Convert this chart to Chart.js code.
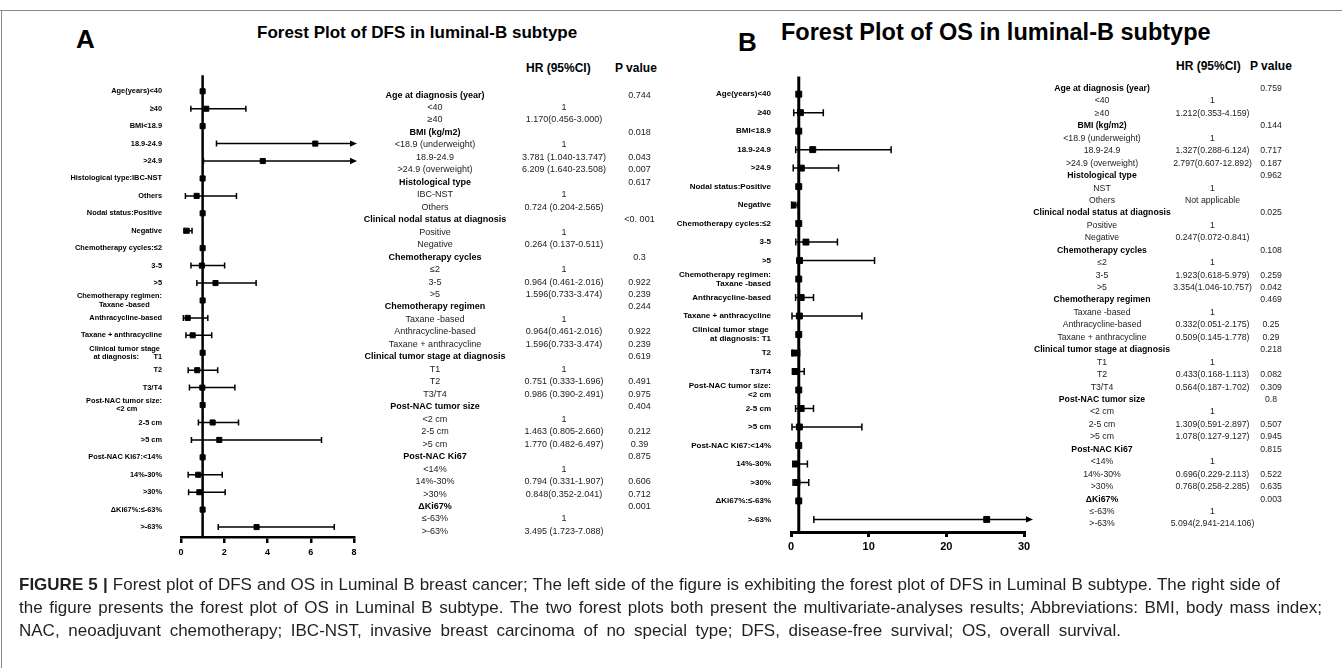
<!DOCTYPE html>
<html>
<head>
<meta charset="utf-8">
<script src="https://cdn.jsdelivr.net/npm/chart.js@4.4.1/dist/chart.umd.min.js"></script>
<style>
  body { margin: 0; background: #fff; font-family: 'Liberation Sans', Arial, sans-serif; }
  #fig { position: relative; width: 1342px; height: 668px; overflow: hidden; background: #fff; }
  .t { position: absolute; white-space: nowrap; color: #222; }
  .frameTop { position: absolute; left: 0; top: 10px; width: 1342px; height: 1px; background: #8a8a8a; }
  .frameLeft { position: absolute; left: 1px; top: 10px; width: 1px; height: 658px; background: #8a8a8a; }
  canvas { position: absolute; }
  .cap { position: absolute; left: 19px; font-size: 17px; line-height: 23px; color: #231f20; white-space: nowrap;
         text-align: justify; text-align-last: justify; }
</style>
</head>
<body>
<div id="fig">
  <div class="frameTop"></div>
  <div class="frameLeft"></div>

  <div class="t" style="left:76px;top:23px;font-size:26px;line-height:32px;font-weight:bold;color:#000">A</div>
  <div class="t" style="left:257px;top:23px;font-size:17px;line-height:20px;font-weight:bold;color:#000">Forest Plot of DFS in luminal-B subtype</div>
  <div class="t" style="left:526px;top:60px;font-size:12px;line-height:16px;font-weight:bold;color:#000">HR (95%CI)</div>
  <div class="t" style="left:615px;top:60px;font-size:12px;line-height:16px;font-weight:bold;color:#000">P value</div>

  <div class="t" style="left:738px;top:26px;font-size:26px;line-height:32px;font-weight:bold;color:#000">B</div>
  <div class="t" style="left:781px;top:19px;font-size:23.5px;line-height:26px;font-weight:bold;color:#000">Forest Plot of OS in luminal-B subtype</div>
  <div class="t" style="left:1176px;top:58px;font-size:12px;line-height:16px;font-weight:bold;color:#000">HR (95%CI)</div>
  <div class="t" style="left:1250px;top:58px;font-size:12px;line-height:16px;font-weight:bold;color:#000">P value</div>

  <canvas id="dfs" width="362" height="520" style="left:0;top:60px"></canvas>
  <canvas id="os" width="440" height="520" style="left:600px;top:60px"></canvas>

  <div class="cap" style="top:573px;width:1261px"><b>FIGURE 5 |</b> Forest plot of DFS and OS in Luminal B breast cancer; The left side of the figure is exhibiting the forest plot of DFS in Luminal B subtype. The right side of</div>
  <div class="cap" style="top:596px;width:1303px">the figure presents the forest plot of OS in Luminal B subtype. The two forest plots both present the multivariate-analyses results; Abbreviations: BMI, body mass index;</div>
  <div class="cap" style="top:619px;width:1102px">NAC, neoadjuvant chemotherapy; IBC-NST, invasive breast carcinoma of no special type; DFS, disease-free survival; OS, overall survival.</div>
</div>

<script>
// ---- DFS forest plot (A) ----
const rowsA = [
  'Age(years)<40', '≥40', 'BMI<18.9', '18.9-24.9', '>24.9',
  'Histological type:IBC-NST', 'Others', 'Nodal status:Positive', 'Negative',
  'Chemotherapy cycles:≤2', '3-5', '>5',
  ['Chemotherapy regimen:', 'Taxane -based      '], 'Anthracycline-based', 'Taxane + anthracycline',
  ['Clinical tumor stage ', 'at diagnosis:       T1'], 'T2', 'T3/T4',
  ['Post-NAC tumor size:', '<2 cm            '], '2-5 cm', '>5 cm',
  'Post-NAC Ki67:<14%', '14%-30%', '>30%', 'ΔKi67%:≤-63%', '>-63%'
];
const hrA = [1, 1.170, 1, 6.209, 3.781, 1, 0.724, 1, 0.264, 1, 0.964, 1.596, 1, 0.31, 0.54, 1, 0.751, 0.986, 1, 1.463, 1.770, 1, 0.794, 0.848, 1, 3.495];
const loA = [null, 0.456, null, 1.640, 1.040, null, 0.204, null, 0.137, null, 0.461, 0.733, null, 0.11, 0.23, null, 0.333, 0.390, null, 0.805, 0.482, null, 0.331, 0.352, null, 1.723];
const hiA = [null, 3.000, null, 23.508, 13.747, null, 2.565, null, 0.511, null, 2.016, 3.474, null, 1.24, 1.42, null, 1.696, 2.491, null, 2.660, 6.497, null, 1.907, 2.041, null, 7.088];

// ---- OS forest plot (B) ----
const rowsB = [
  'Age(years)<40', '≥40', 'BMI<18.9', '18.9-24.9', '>24.9',
  'Nodal status:Positive', 'Negative', 'Chemotherapy cycles:≤2', '3-5', '>5',
  ['Chemotherapy regimen:', 'Taxane -based'], 'Anthracycline-based', 'Taxane + anthracycline',
  ['Clinical tumor stage ', 'at diagnosis: T1'], 'T2', 'T3/T4',
  ['Post-NAC tumor size:', '<2 cm'], '2-5 cm', '>5 cm',
  'Post-NAC Ki67:<14%', '14%-30%', '>30%', 'ΔKi67%:≤-63%', '>-63%'
];
const hrB = [1, 1.212, 1, 2.797, 1.327, 1, 0.247, 1, 1.923, 1.1, 1, 1.309, 1.078, 1, 0.433, 0.564, 1, 1.309, 1.078, 1, 0.696, 0.768, 1, 25.2];
const loB = [null, 0.353, null, 0.607, 0.288, null, 0.072, null, 0.618, 1.046, null, 0.591, 0.127, null, 0.168, 0.187, null, 0.591, 0.127, null, 0.229, 0.258, null, 2.941];
const hiB = [null, 4.159, null, 12.892, 6.124, null, 0.841, null, 5.979, 10.757, null, 2.897, 9.127, null, 1.113, 1.702, null, 2.897, 9.127, null, 2.113, 2.285, null, 214.106];

// ---- tables next to each plot ('' in HR column = group heading) ----
const tabLabA = ['Age at diagnosis (year)', '<40', '≥40', 'BMI (kg/m2)', '<18.9 (underweight)', '18.9-24.9', '>24.9 (overweight)',
  'Histological type', 'IBC-NST', 'Others', 'Clinical nodal status at diagnosis', 'Positive', 'Negative',
  'Chemotherapy cycles', '≤2', '3-5', '>5', 'Chemotherapy regimen', 'Taxane -based', 'Anthracycline-based', 'Taxane + anthracycline',
  'Clinical tumor stage at diagnosis', 'T1', 'T2', 'T3/T4', 'Post-NAC tumor size', '<2 cm', '2-5 cm', '>5 cm',
  'Post-NAC Ki67', '<14%', '14%-30%', '>30%', 'ΔKi67%', '≤-63%', '>-63%'];
const tabHrA = ['', '1', '1.170(0.456-3.000)', '', '1', '3.781 (1.040-13.747)', '6.209 (1.640-23.508)',
  '', '1', '0.724 (0.204-2.565)', '', '1', '0.264 (0.137-0.511)',
  '', '1', '0.964 (0.461-2.016)', '1.596(0.733-3.474)', '', '1', '0.964(0.461-2.016)', '1.596(0.733-3.474)',
  '', '1', '0.751 (0.333-1.696)', '0.986 (0.390-2.491)', '', '1', '1.463 (0.805-2.660)', '1.770 (0.482-6.497)',
  '', '1', '0.794 (0.331-1.907)', '0.848(0.352-2.041)', '', '1', '3.495 (1.723-7.088)'];
const tabPA = ['0.744', '', '', '0.018', '', '0.043', '0.007',
  '0.617', '', '', '<0. 001', '', '',
  '0.3', '', '0.922', '0.239', '0.244', '', '0.922', '0.239',
  '0.619', '', '0.491', '0.975', '0.404', '', '0.212', '0.39',
  '0.875', '', '0.606', '0.712', '0.001', '', ''];

const tabLabB = ['Age at diagnosis (year)', '<40', '≥40', 'BMI (kg/m2)', '<18.9 (underweight)', '18.9-24.9', '>24.9 (overweight)',
  'Histological type', 'NST', 'Others', 'Clinical nodal status at diagnosis', 'Positive', 'Negative',
  'Chemotherapy cycles', '≤2', '3-5', '>5', 'Chemotherapy regimen', 'Taxane -based', 'Anthracycline-based', 'Taxane + anthracycline',
  'Clinical tumor stage at diagnosis', 'T1', 'T2', 'T3/T4', 'Post-NAC tumor size', '<2 cm', '2-5 cm', '>5 cm',
  'Post-NAC Ki67', '<14%', '14%-30%', '>30%', 'ΔKi67%', '≤-63%', '>-63%'];
const tabHrB = ['', '1', '1.212(0.353-4.159)', '', '1', '1.327(0.288-6.124)', '2.797(0.607-12.892)',
  '', '1', 'Not applicable', '', '1', '0.247(0.072-0.841)',
  '', '1', '1.923(0.618-5.979)', '3.354(1.046-10.757)', '', '1', '0.332(0.051-2.175)', '0.509(0.145-1.778)',
  '', '1', '0.433(0.168-1.113)', '0.564(0.187-1.702)', '', '1', '1.309(0.591-2.897)', '1.078(0.127-9.127)',
  '', '1', '0.696(0.229-2.113)', '0.768(0.258-2.285)', '', '1', '5.094(2.941-214.106)'];
const tabPB = ['0.759', '', '', '0.144', '', '0.717', '0.187',
  '0.962', '', '', '0.025', '', '',
  '0.108', '', '0.259', '0.042', '0.469', '', '0.25', '0.29',
  '0.218', '', '0.082', '0.309', '0.8', '', '0.507', '0.945',
  '0.815', '', '0.522', '0.635', '0.003', '', ''];

const fig = document.getElementById('fig');
Chart.defaults.font.family = "'Liberation Sans', Arial, sans-serif";
Chart.defaults.color = '#000';

function cell(txt, cx, cy, size, bold) {
  if (!txt) return;
  const d = document.createElement('div');
  d.className = 't';
  d.textContent = txt;
  d.style.cssText = 'left:' + (cx - 200) + 'px;width:400px;text-align:center;top:' + (cy - 8) + 'px;line-height:16px;font-size:' + size + 'px;' +
    (bold ? 'font-weight:bold;color:#000;' : '');
  fig.appendChild(d);
}

function table(labs, hrs, ps, o) {
  labs.forEach((lab, i) => {
    const y = o.y0 + i * o.dy;
    cell(lab, o.cx[0], y, o.size, hrs[i] === '');
    cell(hrs[i], o.cx[1], y, o.size, false);
    cell(ps[i], o.cx[2], y, o.size, false);
  });
}

table(tabLabA, tabHrA, tabPA, { y0: 94.5, dy: 12.47, cx: [435, 564, 639.5], size: 9 });
table(tabLabB, tabHrB, tabPB, { y0: 88, dy: 12.44, cx: [1102, 1212.5, 1271], size: 8.7 });

// whiskers, caps, arrows and the HR = 1 line
function ciPlugin(lo, hi, o) {
  return {
    id: 'ci',
    beforeDatasetsDraw(chart) {
      const ctx = chart.ctx, xs = chart.scales.x, ys = chart.scales.y, ca = chart.chartArea;
      ctx.save();
      ctx.strokeStyle = '#000';
      ctx.fillStyle = '#000';
      ctx.lineWidth = o.refW;
      const x1 = xs.getPixelForValue(1);
      ctx.beginPath();
      ctx.moveTo(x1, ca.top);
      ctx.lineTo(x1, ca.bottom);
      ctx.stroke();

      ctx.lineWidth = o.ciW;
      lo.forEach((l, i) => {
        if (l == null) return;
        const y = ys.getPixelForValue(i);
        const xl = xs.getPixelForValue(l);
        const over = hi[i] > xs.max;
        const xr = over ? xs.getPixelForValue(xs.max) + o.arrowExt : xs.getPixelForValue(hi[i]);
        ctx.beginPath();
        ctx.moveTo(xl, y);
        ctx.lineTo(over ? xr - o.head : xr, y);
        ctx.moveTo(xl, y - o.cap);
        ctx.lineTo(xl, y + o.cap);
        if (!over) {
          ctx.moveTo(xr, y - o.cap);
          ctx.lineTo(xr, y + o.cap);
        }
        ctx.stroke();
        if (over) {
          ctx.beginPath();
          ctx.moveTo(xr, y);
          ctx.lineTo(xr - o.head, y - o.head * 0.45);
          ctx.lineTo(xr - o.head, y + o.head * 0.45);
          ctx.closePath();
          ctx.fill();
        }
      });
      ctx.restore();
    }
  };
}

function forest(id, rows, hr, lo, hi, o) {
  return new Chart(document.getElementById(id), {
    type: 'scatter',
    data: {
      datasets: [{
        data: hr.map((v, i) => ({ x: v, y: i })),
        pointStyle: 'rect',
        pointRadius: o.box,
        pointHoverRadius: o.box,
        backgroundColor: '#000',
        borderColor: '#000',
        borderWidth: 1
      }]
    },
    options: {
      responsive: false,
      animation: false,
      events: [],
      layout: { padding: { top: 15, right: o.padRight, left: 0, bottom: 0 } },
      plugins: { legend: { display: false }, tooltip: { enabled: false } },
      scales: {
        x: {
          type: 'linear', min: 0, max: o.xMax,
          ticks: { stepSize: o.step, color: '#000', padding: o.tickPad, maxRotation: 0,
                   font: { size: o.tickSize, weight: 'bold' } },
          grid: { display: true, drawOnChartArea: false, drawTicks: true, tickLength: o.tickLen, color: '#000', lineWidth: o.axisW },
          border: { display: true, color: '#000', width: o.axisW },
          afterFit: s => { s.height = o.xH; }
        },
        y: {
          type: 'linear', reverse: true, min: o.yMin, max: o.yMax,
          afterBuildTicks: s => { s.ticks = rows.map((_, i) => ({ value: i })); },
          ticks: { autoSkip: false, color: '#000', padding: o.labPad,
                   font: { size: o.labSize, weight: 'bold', lineHeight: 1.15 },
                   callback: v => rows[v] },
          grid: { display: false },
          border: { display: false },
          afterFit: s => { s.width = o.yW; }
        }
      }
    },
    plugins: [ciPlugin(lo, hi, o)]
  });
}

forest('dfs', rowsA, hrA, loA, hiA, {
  box: 3.6, padRight: 8, xMax: 8, step: 2, tickPad: 4, tickSize: 9, tickLen: 6, axisW: 2.5, xH: 43,
  yMin: -0.92, yMax: 25.57, labPad: 11, labSize: 7.4, yW: 181,
  refW: 2.5, ciW: 1.5, cap: 3, arrowExt: 3, head: 7
});

forest('os', rowsB, hrB, loB, hiB, {
  box: 4.2, padRight: 16, xMax: 30, step: 10, tickPad: 3, tickSize: 11, tickLen: 5, axisW: 3, xH: 48,
  yMin: -0.95, yMax: 23.68, labPad: 12, labSize: 8, yW: 191,
  refW: 3, ciW: 1.5, cap: 3.5, arrowExt: 9, head: 7
});
</script>
</body>
</html>
